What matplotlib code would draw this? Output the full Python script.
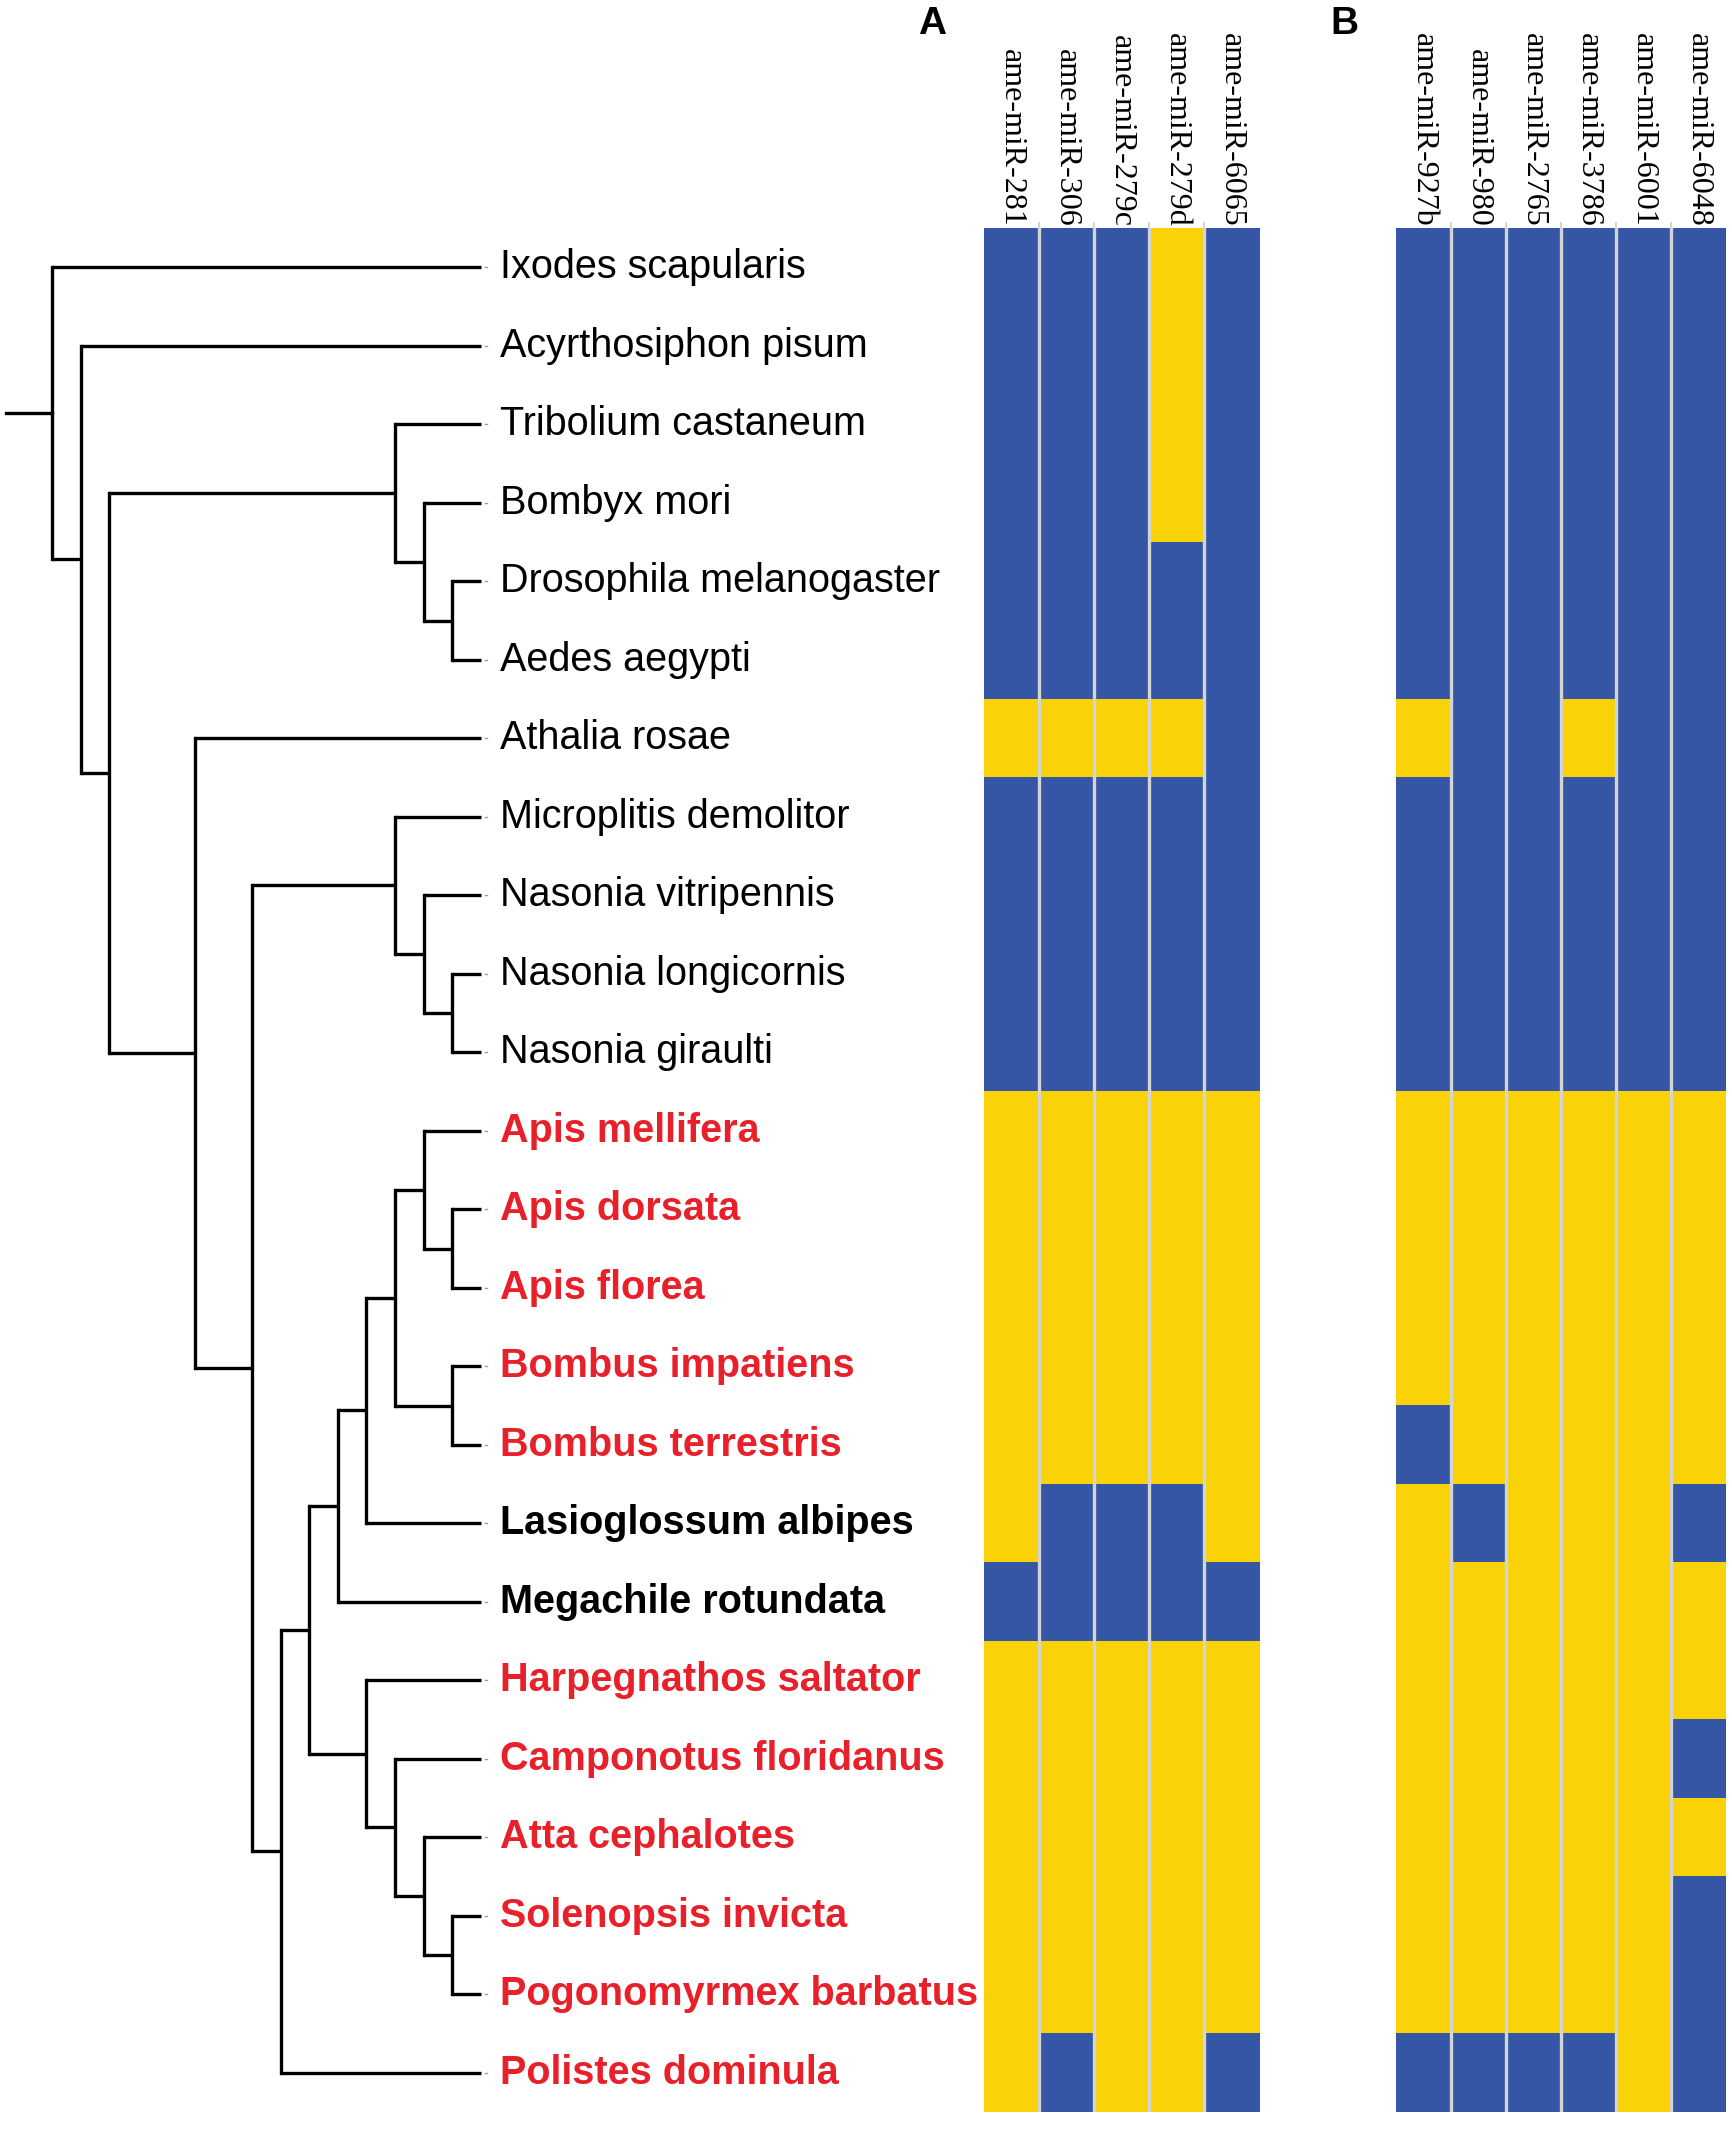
import matplotlib
matplotlib.use("Agg")
import matplotlib.pyplot as plt
import numpy as np
from matplotlib.colors import ListedColormap

# species in tree order (top to bottom)
species = [
    "Ixodes scapularis", "Acyrthosiphon pisum", "Tribolium castaneum",
    "Bombyx mori", "Drosophila melanogaster", "Aedes aegypti",
    "Athalia rosae", "Microplitis demolitor", "Nasonia vitripennis",
    "Nasonia longicornis", "Nasonia giraulti", "Apis mellifera",
    "Apis dorsata", "Apis florea", "Bombus impatiens", "Bombus terrestris",
    "Lasioglossum albipes", "Megachile rotundata", "Harpegnathos saltator",
    "Camponotus floridanus", "Atta cephalotes", "Solenopsis invicta",
    "Pogonomyrmex barbatus", "Polistes dominula",
]
# n = normal black, b = bold black, r = bold red
label_kind = ["n"] * 11 + ["r"] * 5 + ["b", "b"] + ["r"] * 6

# tree: (node depth, [children]); leaves are species names
tree = (52, [
    "Ixodes scapularis",
    (81, [
        "Acyrthosiphon pisum",
        (109, [
            (395, ["Tribolium castaneum",
                   (424, ["Bombyx mori",
                          (452, ["Drosophila melanogaster", "Aedes aegypti"])])]),
            (195, [
                "Athalia rosae",
                (252, [
                    (395, ["Microplitis demolitor",
                           (424, ["Nasonia vitripennis",
                                  (452, ["Nasonia longicornis", "Nasonia giraulti"])])]),
                    (281, [
                        (309, [
                            (338, [
                                (366, [
                                    (395, [
                                        (424, ["Apis mellifera",
                                               (452, ["Apis dorsata", "Apis florea"])]),
                                        (452, ["Bombus impatiens", "Bombus terrestris"]),
                                    ]),
                                    "Lasioglossum albipes",
                                ]),
                                "Megachile rotundata",
                            ]),
                            (366, ["Harpegnathos saltator",
                                   (395, ["Camponotus floridanus",
                                          (424, ["Atta cephalotes",
                                                 (452, ["Solenopsis invicta",
                                                        "Pogonomyrmex barbatus"])])])]),
                        ]),
                        "Polistes dominula",
                    ]),
                ]),
            ]),
        ]),
    ]),
])
leaf_depth = 481
root_start = 6

mirs_a = ["ame-miR-281", "ame-miR-306", "ame-miR-279c", "ame-miR-279d", "ame-miR-6065"]
mirs_b = ["ame-miR-927b", "ame-miR-980", "ame-miR-2765", "ame-miR-3786",
          "ame-miR-6001", "ame-miR-6048"]

# 1 = blue, 0 = yellow ; one string per miRNA, one char per species
cols_a = [
    "111111011110000001000000",
    "111111011110000011000001",
    "111111011110000011000000",
    "000011011110000011000000",
    "111111111110000001000001",
]
cols_b = [
    "111111011110000100000001",
    "111111111110000010000001",
    "111111111110000000000001",
    "111111011110000000000001",
    "111111111110000000000000",
    "111111111110000010010111",
]

blue = "#3556a5"
yellow = "#f9d308"
red = "#e8202a"
sep = "#d4d4d4"

W, H = 1733, 2134
fig = plt.figure(figsize=(W / 100, H / 100), dpi=100)

top_px, bot_px = 228, 2112
ax_b = (H - bot_px) / H
ax_h = (bot_px - top_px) / H
n = len(species)

# ---- tree ----
tax = fig.add_axes([0, ax_b, 984 / W, ax_h])
tax.set_xlim(0, 984)
tax.set_ylim(n - 0.5, -0.5)
tax.axis("off")
row_of = {s: i for i, s in enumerate(species)}
lw = 2.4


def draw(node):
    if isinstance(node, str):
        return leaf_depth, row_of[node]
    x, kids = node
    ys = []
    for k in kids:
        kx, ky = draw(k)
        tax.plot([x, kx], [ky, ky], color="black", lw=lw, solid_capstyle="butt")
        ys.append(ky)
    tax.plot([x, x], [min(ys), max(ys)], color="black", lw=lw, solid_capstyle="projecting")
    return x, (min(ys) + max(ys)) / 2


rx, ry = draw(tree)
tax.plot([root_start, rx], [ry, ry], color="black", lw=lw)

for i, (s, k) in enumerate(zip(species, label_kind)):
    tax.plot([leaf_depth + 4, leaf_depth + 6], [i, i], color="#999999", lw=1)
    tax.text(500, i, s, va="center", ha="left", fontsize=28.5,
             family="Liberation Sans",
             color=red if k == "r" else "black",
             fontweight="normal" if k == "n" else "bold")

# ---- heatmaps ----
cmap = ListedColormap([yellow, blue])


def heat(left_px, names, cols, letter):
    m = np.array([[int(c) for c in col] for col in cols]).T
    ax = fig.add_axes([left_px / W, ax_b, 55 * len(names) / W, ax_h])
    ax.imshow(m, cmap=cmap, vmin=0, vmax=1, aspect="auto", interpolation="nearest")
    for j in range(1, len(names)):
        ax.axvline(j - 0.5, color=sep, lw=2.4)
    for s in ax.spines.values():
        s.set_visible(False)
    ax.set_yticks([])
    ax.xaxis.tick_top()
    ax.set_xticks(np.arange(len(names) - 1) + 0.5)
    ax.set_xticklabels([])
    ax.tick_params(axis="x", length=4, width=1.5, color=sep, pad=0)
    for j, name in enumerate(names):
        ax.annotate(name, xy=(j, 1), xycoords=("data", "axes fraction"),
                    xytext=(0, 9), textcoords="offset pixels",
                    rotation=270, rotation_mode="anchor", ha="right", va="center",
                    fontsize=23, family="Liberation Serif")
    ax.text(-52 / 55 - 0.5, 1, letter, transform=ax.get_xaxis_transform(),
            ha="center", va="center", fontsize=28, fontweight="bold",
            family="Liberation Sans")
    return ax


ha = heat(984, mirs_a, cols_a, "A")
hb = heat(1396, mirs_b, cols_b, "B")
# move panel letters up to the figure top
for t in ha.texts + hb.texts:
    t.set_y(1 + (top_px - 24) / (bot_px - top_px))

fig.savefig("out.png", dpi=100)
